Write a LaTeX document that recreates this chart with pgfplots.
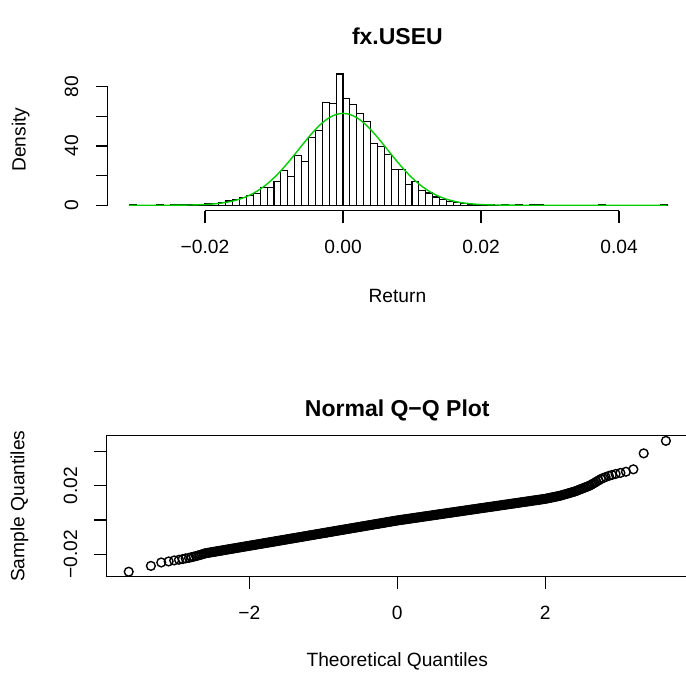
\documentclass[border=0pt]{standalone}
\usepackage{fontspec}
\setmainfont{Liberation Sans}
\usepackage{pgfplots}
\pgfplotsset{compat=1.18}
\definecolor{rgreen}{RGB}{0,205,0}
\begin{document}
\fontsize{9.6}{11.5}\selectfont
\begin{tikzpicture}[x=1pt,y=1pt]
\useasboundingbox (0,0) rectangle (343,338.5);
% ---------------- Histogram ----------------
\begin{axis}[
  scale only axis, width=289.8pt, height=70.9pt,
  at={(53.8pt,233.25pt)}, anchor=south west,
  xmin=-0.03412, xmax=0.04988, ymin=-3.544, ymax=92.14,
  hide axis, clip=false,
]
\addplot[ybar interval, fill=white, draw=black, line width=0.55pt] coordinates {
(-0.031,0.29) (-0.030,0) (-0.029,0) (-0.028,0) (-0.027,0.29) (-0.026,0) (-0.025,0.29) (-0.024,0.57) (-0.023,0.29) (-0.022,0.57) (-0.021,0.57) (-0.020,1.1) (-0.019,1.4) (-0.018,2.0) (-0.017,2.9) (-0.016,3.8) (-0.015,5.4) (-0.014,6.4) (-0.013,7.9) (-0.012,11.8) (-0.011,11.8) (-0.010,15.9) (-0.009,23.7) (-0.008,19.7) (-0.007,33.6) (-0.006,29.3) (-0.005,45.8) (-0.004,50.3) (-0.003,69.4) (-0.002,68.7) (-0.001,88.6) (0.000,71.9) (0.001,68.1) (0.002,62.2) (0.003,56.3) (0.004,41.7) (0.005,39.4) (0.006,34.4) (0.007,24.3) (0.008,24.1) (0.009,14.2) (0.010,16.2) (0.011,10.1) (0.012,8.3) (0.013,5.6) (0.014,3.8) (0.015,2.7) (0.016,1.6) (0.017,1.1) (0.018,0.57) (0.019,0.57) (0.020,0.29) (0.021,0.57) (0.022,0) (0.023,0.57) (0.024,0) (0.025,0.29) (0.026,0) (0.027,0.29) (0.028,0.29) (0.029,0) (0.030,0) (0.031,0) (0.032,0) (0.033,0) (0.034,0) (0.035,0) (0.036,0) (0.037,0.29) (0.038,0) (0.039,0) (0.040,0) (0.041,0) (0.042,0) (0.043,0) (0.044,0) (0.045,0) (0.046,0.29) (0.047,0)
};
\addplot[rgreen, line width=0.7pt, smooth] coordinates {
(-0.031,0) (-0.028,0.001) (-0.026,0.02) (-0.024,0.06) (-0.022,0.18) (-0.021,0.30) (-0.020,0.49) (-0.019,0.79) (-0.018,1.24) (-0.017,1.89) (-0.016,2.82) (-0.015,4.10) (-0.014,5.81) (-0.013,8.05) (-0.012,10.89) (-0.011,14.38) (-0.010,18.54) (-0.009,23.32) (-0.008,28.63) (-0.007,34.31) (-0.006,40.14) (-0.005,45.84) (-0.004,51.11) (-0.003,55.61) (-0.002,59.08) (-0.001,61.26) (0,62.00) (0.001,61.26) (0.002,59.08) (0.003,55.61) (0.004,51.11) (0.005,45.84) (0.006,40.14) (0.007,34.31) (0.008,28.63) (0.009,23.32) (0.010,18.54) (0.011,14.38) (0.012,10.89) (0.013,8.05) (0.014,5.81) (0.015,4.10) (0.016,2.82) (0.017,1.89) (0.018,1.24) (0.019,0.79) (0.020,0.49) (0.021,0.30) (0.022,0.18) (0.024,0.06) (0.026,0.02) (0.028,0.001) (0.031,0) (0.047,0)
};
% x axis
\draw[line width=0.6pt] (axis cs:-0.02,-3.544) -- (axis cs:0.04,-3.544);
\draw[line width=0.6pt] (axis cs:-0.02,-3.544) -- ([yshift=-6pt]axis cs:-0.02,-3.544);
\draw[line width=0.6pt] (axis cs:0,-3.544) -- ([yshift=-6pt]axis cs:0,-3.544);
\draw[line width=0.6pt] (axis cs:0.02,-3.544) -- ([yshift=-6pt]axis cs:0.02,-3.544);
\draw[line width=0.6pt] (axis cs:0.04,-3.544) -- ([yshift=-6pt]axis cs:0.04,-3.544);
\node at ([yshift=-18pt]axis cs:-0.02,-3.544) {−0.02};
\node at ([yshift=-18pt]axis cs:0,-3.544) {0.00};
\node at ([yshift=-18pt]axis cs:0.02,-3.544) {0.02};
\node at ([yshift=-18pt]axis cs:0.04,-3.544) {0.04};
\node at ([yshift=-42.5pt]rel axis cs:0.5,0) {Return};
% y axis
\draw[line width=0.6pt] (axis cs:-0.03412,0) -- (axis cs:-0.03412,80);
\draw[line width=0.6pt] (axis cs:-0.03412,0) -- ([xshift=-6pt]axis cs:-0.03412,0);
\draw[line width=0.6pt] (axis cs:-0.03412,20) -- ([xshift=-6pt]axis cs:-0.03412,20);
\draw[line width=0.6pt] (axis cs:-0.03412,40) -- ([xshift=-6pt]axis cs:-0.03412,40);
\draw[line width=0.6pt] (axis cs:-0.03412,60) -- ([xshift=-6pt]axis cs:-0.03412,60);
\draw[line width=0.6pt] (axis cs:-0.03412,80) -- ([xshift=-6pt]axis cs:-0.03412,80);
\node[rotate=90] at ([xshift=-18pt]axis cs:-0.03412,0) {0};
\node[rotate=90] at ([xshift=-18pt]axis cs:-0.03412,40) {40};
\node[rotate=90] at ([xshift=-18pt]axis cs:-0.03412,80) {80};
\node[rotate=90] at ([xshift=-43.5pt]rel axis cs:0,0.5) {Density};
\node at ([yshift=16.35pt]rel axis cs:0.5,1) {\fontsize{11.5}{13}\selectfont\bfseries fx.USEU};
\end{axis}
% ---------------- Q-Q plot ----------------
\begin{axis}[
  scale only axis, width=290.8pt, height=70.5pt,
  at={(53.25pt,50.15pt)}, anchor=south west,
  xmin=-3.93, xmax=3.93, ymin=-0.0331, ymax=0.0491,
  xtick=\empty, ytick=\empty, clip=false,
  axis line style={line width=0.6pt},
]
\addplot[black, only marks, mark=o, mark size=2.2pt, mark options={line width=0.7pt}] coordinates {
(-3.63,-0.0302) (-3.33,-0.0268) (-3.19,-0.0248) (-3.09,-0.0242) (-3.015,-0.0236) (-2.95,-0.0232) (-2.90,-0.0228) (-2.86,-0.0224) (-2.815,-0.0221) (-2.78,-0.0217) (-2.75,-0.0214) (-2.72,-0.0211) (-2.69,-0.0207) (-2.665,-0.0204) (-2.64,-0.0201) (-2.62,-0.0198)
(-2.60,-0.01950) (-2.58,-0.01935) (-2.56,-0.01920) (-2.54,-0.01906) (-2.52,-0.01891) (-2.50,-0.01876) (-2.48,-0.01861) (-2.46,-0.01847) (-2.44,-0.01832) (-2.42,-0.01817)
(-2.40,-0.01802) (-2.38,-0.01788) (-2.36,-0.01773) (-2.34,-0.01758) (-2.32,-0.01743) (-2.30,-0.01728) (-2.28,-0.01714) (-2.26,-0.01699) (-2.24,-0.01684) (-2.22,-0.01669)
(-2.20,-0.01655) (-2.18,-0.01640) (-2.16,-0.01625) (-2.14,-0.01610) (-2.12,-0.01596) (-2.10,-0.01581) (-2.08,-0.01566) (-2.06,-0.01551) (-2.04,-0.01536) (-2.02,-0.01522)
(-2.00,-0.01507) (-1.98,-0.01492) (-1.96,-0.01477) (-1.94,-0.01463) (-1.92,-0.01448) (-1.90,-0.01433) (-1.88,-0.01418) (-1.86,-0.01404) (-1.84,-0.01389) (-1.82,-0.01374)
(-1.80,-0.01359) (-1.78,-0.01344) (-1.76,-0.01330) (-1.74,-0.01315) (-1.72,-0.01300) (-1.70,-0.01285) (-1.68,-0.01271) (-1.66,-0.01256) (-1.64,-0.01241) (-1.62,-0.01226)
(-1.60,-0.01212) (-1.58,-0.01197) (-1.56,-0.01182) (-1.54,-0.01167) (-1.52,-0.01152) (-1.50,-0.01138) (-1.48,-0.01123) (-1.46,-0.01108) (-1.44,-0.01093) (-1.42,-0.01079)
(-1.40,-0.01064) (-1.38,-0.01049) (-1.36,-0.01034) (-1.34,-0.01020) (-1.32,-0.01005) (-1.30,-0.00990) (-1.28,-0.00975) (-1.26,-0.00960) (-1.24,-0.00946) (-1.22,-0.00931)
(-1.20,-0.00916) (-1.18,-0.00901) (-1.16,-0.00887) (-1.14,-0.00872) (-1.12,-0.00857) (-1.10,-0.00842) (-1.08,-0.00828) (-1.06,-0.00813) (-1.04,-0.00798) (-1.02,-0.00783)
(-1.00,-0.00768) (-0.98,-0.00754) (-0.96,-0.00739) (-0.94,-0.00724) (-0.92,-0.00709) (-0.90,-0.00695) (-0.88,-0.00680) (-0.86,-0.00665) (-0.84,-0.00650) (-0.82,-0.00636)
(-0.80,-0.00621) (-0.78,-0.00606) (-0.76,-0.00591) (-0.74,-0.00576) (-0.72,-0.00562) (-0.70,-0.00547) (-0.68,-0.00532) (-0.66,-0.00517) (-0.64,-0.00503) (-0.62,-0.00488)
(-0.60,-0.00473) (-0.58,-0.00458) (-0.56,-0.00444) (-0.54,-0.00429) (-0.52,-0.00414) (-0.50,-0.00399) (-0.48,-0.00384) (-0.46,-0.00370) (-0.44,-0.00355) (-0.42,-0.00340)
(-0.40,-0.00325) (-0.38,-0.00311) (-0.36,-0.00296) (-0.34,-0.00281) (-0.32,-0.00266) (-0.30,-0.00252) (-0.28,-0.00237) (-0.26,-0.00222) (-0.24,-0.00207) (-0.22,-0.00192)
(-0.20,-0.00178) (-0.18,-0.00163) (-0.16,-0.00148) (-0.14,-0.00133) (-0.12,-0.00119) (-0.10,-0.00104) (-0.08,-0.00089) (-0.06,-0.00074) (-0.04,-0.00059) (-0.02,-0.00045)
(0.00,-0.00030) (0.02,-0.00017) (0.04,-0.00005) (0.06,0.00008) (0.08,0.00020) (0.10,0.00033) (0.12,0.00046) (0.14,0.00058) (0.16,0.00071) (0.18,0.00083)
(0.20,0.00096) (0.22,0.00109) (0.24,0.00121) (0.26,0.00134) (0.28,0.00146) (0.30,0.00159) (0.32,0.00172) (0.34,0.00184) (0.36,0.00197) (0.38,0.00209)
(0.40,0.00222) (0.42,0.00235) (0.44,0.00247) (0.46,0.00260) (0.48,0.00272) (0.50,0.00285) (0.52,0.00298) (0.54,0.00310) (0.56,0.00323) (0.58,0.00335)
(0.60,0.00348) (0.62,0.00361) (0.64,0.00373) (0.66,0.00386) (0.68,0.00398) (0.70,0.00411) (0.72,0.00424) (0.74,0.00436) (0.76,0.00449) (0.78,0.00461)
(0.80,0.00474) (0.82,0.00487) (0.84,0.00499) (0.86,0.00512) (0.88,0.00524) (0.90,0.00537) (0.92,0.00550) (0.94,0.00562) (0.96,0.00575) (0.98,0.00587)
(1.00,0.00600) (1.02,0.00613) (1.04,0.00625) (1.06,0.00638) (1.08,0.00650) (1.10,0.00663) (1.12,0.00676) (1.14,0.00688) (1.16,0.00701) (1.18,0.00713)
(1.20,0.00726) (1.22,0.00739) (1.24,0.00751) (1.26,0.00764) (1.28,0.00776) (1.30,0.00789) (1.32,0.00802) (1.34,0.00814) (1.36,0.00827) (1.38,0.00839)
(1.40,0.00852) (1.42,0.00865) (1.44,0.00877) (1.46,0.00890) (1.48,0.00902) (1.50,0.00915) (1.52,0.00928) (1.54,0.00940) (1.56,0.00953) (1.58,0.00965)
(1.60,0.00978) (1.62,0.00991) (1.64,0.01003) (1.66,0.01016) (1.68,0.01028) (1.70,0.01041) (1.72,0.01054) (1.74,0.01066) (1.76,0.01079) (1.78,0.01091)
(1.80,0.01104) (1.82,0.01117) (1.84,0.01129) (1.86,0.01142) (1.88,0.01154) (1.90,0.01167) (1.92,0.01180) (1.94,0.01192) (1.96,0.01205) (1.98,0.01217)
(2.00,0.01230) (2.02,0.01248) (2.04,0.01266) (2.06,0.01284) (2.08,0.01302) (2.10,0.01320) (2.12,0.01338) (2.14,0.01356) (2.16,0.01374) (2.18,0.01392)
(2.20,0.01410) (2.22,0.01435) (2.24,0.01460) (2.26,0.01485) (2.28,0.01510) (2.30,0.01535) (2.32,0.01560) (2.34,0.01585) (2.36,0.01610) (2.38,0.01635)
(2.40,0.01660) (2.42,0.01694) (2.44,0.01728) (2.46,0.01762) (2.48,0.01796) (2.50,0.01830) (2.52,0.01864) (2.54,0.01898) (2.56,0.01932) (2.58,0.01966)
(2.60,0.02000)
(2.62,0.0205) (2.64,0.0210) (2.665,0.0216) (2.69,0.0223) (2.72,0.0230) (2.75,0.0238) (2.78,0.0244) (2.815,0.0250) (2.86,0.0257) (2.90,0.0262) (2.95,0.0268) (3.015,0.0274) (3.09,0.0281) (3.19,0.0295) (3.33,0.0388) (3.63,0.0461)
};
% x ticks
\draw[line width=0.6pt] (axis cs:-2,-0.0331) -- ([yshift=-6pt]axis cs:-2,-0.0331);
\draw[line width=0.6pt] (axis cs:0,-0.0331) -- ([yshift=-6pt]axis cs:0,-0.0331);
\draw[line width=0.6pt] (axis cs:2,-0.0331) -- ([yshift=-6pt]axis cs:2,-0.0331);
\node at ([yshift=-18pt]axis cs:-2,-0.0331) {−2};
\node at ([yshift=-18pt]axis cs:0,-0.0331) {0};
\node at ([yshift=-18pt]axis cs:2,-0.0331) {2};
\node at ([yshift=-42.5pt]rel axis cs:0.5,0) {Theoretical Quantiles};
% y ticks
\draw[line width=0.6pt] (axis cs:-3.93,-0.02) -- ([xshift=-6pt]axis cs:-3.93,-0.02);
\draw[line width=0.6pt] (axis cs:-3.93,0) -- ([xshift=-6pt]axis cs:-3.93,0);
\draw[line width=0.6pt] (axis cs:-3.93,0.02) -- ([xshift=-6pt]axis cs:-3.93,0.02);
\draw[line width=0.6pt] (axis cs:-3.93,0.04) -- ([xshift=-6pt]axis cs:-3.93,0.04);
\node[rotate=90] at ([xshift=-18pt]axis cs:-3.93,-0.02) {−0.02};
\node[rotate=90] at ([xshift=-18pt]axis cs:-3.93,0.02) {0.02};
\node[rotate=90] at ([xshift=-43.5pt]rel axis cs:0,0.5) {Sample Quantiles};
\node at ([yshift=12.85pt]rel axis cs:0.5,1) {\fontsize{11.5}{13}\selectfont\bfseries Normal Q−Q Plot};
\end{axis}
\end{tikzpicture}
\end{document}
